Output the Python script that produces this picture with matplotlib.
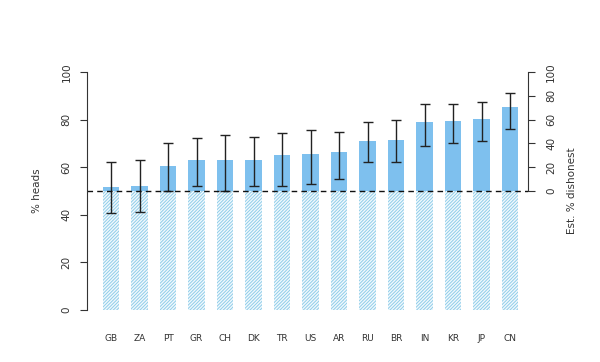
import numpy as np
import matplotlib
matplotlib.use("Agg")
import matplotlib.pyplot as plt

# countries and % heads reported
countries = ["GB", "ZA", "PT", "GR", "CH", "DK", "TR", "US", "AR", "RU", "BR", "IN", "KR", "JP", "CN"]
heads = [51.8, 52.3, 60.7, 63.0, 63.0, 63.0, 65.0, 65.5, 66.2, 71.0, 71.5, 78.8, 79.4, 80.2, 85.2]
err_lo = [40.8, 41.2, 50.0, 52.0, 50.2, 52.0, 52.3, 53.0, 55.0, 62.0, 62.0, 68.9, 70.0, 71.0, 76.0]
err_hi = [62.3, 63.0, 70.0, 72.4, 73.5, 72.7, 74.5, 75.6, 75.0, 79.2, 79.8, 86.4, 86.4, 87.5, 91.0]
right_ticks = [0, 20, 40, 60, 80, 100]  # est. % dishonest

base = 50
solid = "#7ec0ee"
hatch_col = "#8fcde9"
txt = "#333333"

plt.rcParams["hatch.linewidth"] = 0.7
fig = plt.figure(figsize=(6, 3.62), dpi=100)
ax = fig.add_axes([87 / 600, 1 - 310 / 362, (528 - 87) / 600, (310 - 72) / 362])

x = np.arange(len(countries))
w = 0.58
h = np.array(heads)
# hatched part up to 50
ax.bar(x, np.minimum(h, base), width=w, color="#f2f9fd", edgecolor=hatch_col,
       hatch="//////////", linewidth=0)
# solid part above 50
ax.bar(x, h - base, bottom=base, width=w, color=solid, linewidth=0)

lo = h - np.array(err_lo)
hi = np.array(err_hi) - h
ax.errorbar(x, h, yerr=[lo, hi], fmt="none", ecolor="#222222", elinewidth=1,
            capsize=3.3, capthick=1)

ax.axhline(base, color="#111111", linestyle=(0, (4, 3)), linewidth=1)

ax.set_xlim((87 - 111) / 28.5, (528 - 111) / 28.5)
ax.set_ylim(0, 100)
ax.set_xticks(x)
ax.set_xticklabels(countries, fontsize=6.5, color=txt)
ax.tick_params(axis="x", length=0, pad=17)
ax.set_yticks([0, 20, 40, 60, 80, 100])
ax.set_yticklabels(["0", "20", "40", "60", "80", "100"], rotation=90, va="center",
                   fontsize=7.5, color=txt)
ax.tick_params(axis="y", length=5, pad=6, color="#333333")
ax.set_ylabel("% heads", fontsize=7.5, color=txt, labelpad=14)

for s in ["top", "right", "bottom"]:
    ax.spines[s].set_visible(False)
ax.spines["left"].set_color("#333333")

ax2 = ax.twinx()
ax2.set_ylim(-100, 100)
ax2.set_yticks(right_ticks)
ax2.set_yticklabels([str(t) for t in right_ticks], rotation=90, va="center",
                    fontsize=7.5, color=txt)
ax2.tick_params(axis="y", length=5, pad=8, color="#333333")
ax2.set_ylabel("Est. % dishonest", fontsize=7.5, color=txt, labelpad=8)
for s in ["top", "left", "bottom"]:
    ax2.spines[s].set_visible(False)
ax2.spines["right"].set_bounds(0, 100)
ax2.spines["right"].set_color("#333333")

fig.savefig("out.png", dpi=100)
